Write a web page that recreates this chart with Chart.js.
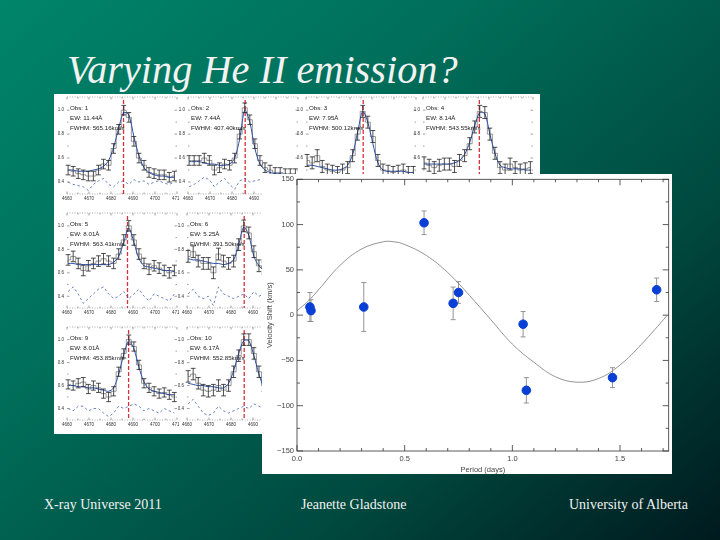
<!DOCTYPE html>
<html>
<head>
<meta charset="utf-8">
<title>Varying He II emission?</title>
<script src="https://cdn.jsdelivr.net/npm/chart.js@4/dist/chart.umd.min.js"></script>
<style>
html, body { margin: 0; padding: 0; }
body {
    width: 720px; height: 540px; position: relative; overflow: hidden;
    background: linear-gradient(140deg, #00856a 0%, #006e5a 35%, #00493f 70%, #001a1e 100%);
    font-family: "Liberation Serif", serif; color: #f2f2f2;
}
canvas { position: absolute; filter: blur(0.4px); }
.sheet { position: absolute; left: 54px; top: 94px; width: 486px; height: 340px; background: #fff; }
.mainbox { position: absolute; left: 262px; top: 174px; width: 410px; height: 300px; background: #fff; }
.title { position: absolute; left: 67px; top: 46px; font-size: 40.3px; font-style: italic; white-space: nowrap; }
.foot { position: absolute; top: 497px; font-size: 14px; white-space: nowrap; }
</style>
</head>
<body>
<div class="title">Varying He II emission?</div>
<div class="sheet"></div>
<div id="panels"></div>
<div class="mainbox"></div>
<canvas id="main-chart" width="412" height="300" style="left:262px;top:174px"></canvas>
<div class="foot" style="left:44px">X-ray Universe 2011</div>
<div class="foot" style="left:301px">Jeanette Gladstone</div>
<div class="foot" style="left:569px">University of Alberta</div>

<script>
// main plot
const periods = [0.06, 0.065, 0.31, 0.59, 0.725, 0.75, 1.05, 1.065, 1.465, 1.67];
const shifts = [9, 5, 9, 102, 13, 25, -10, -83, -69, 28];
const shiftErrs = [16, 12, 27, 13, 18, 12, 14, 14, 11, 13];
const curveX = [0, 0.05, 0.1, 0.2, 0.3, 0.4, 0.45, 0.5, 0.6, 0.7, 0.8, 0.9, 1.0, 1.1, 1.2, 1.3, 1.4, 1.5, 1.6, 1.72];
const curveY = [5, 15, 28, 55, 73, 81, 81, 78, 66, 47, 22, -5, -32, -52, -68, -74, -70, -55, -32, 0];
const mainXTicks = [0, 0.5, 1, 1.5];
const mainYTicks = [-150, -100, -50, 0, 50, 100, 150];
const mainXMinor = [0.1, 0.2, 0.3, 0.4, 0.6, 0.7, 0.8, 0.9, 1.1, 1.2, 1.3, 1.4, 1.6, 1.7];
const mainYMinor = [-125, -75, -25, 25, 75, 125];

// line profile panels
const wavelengths = [4660.5, 4662.8, 4665.1, 4667.4, 4669.7, 4672, 4674.3, 4676.6, 4678.9, 4681.2, 4683.5, 4685.8,
    4688.1, 4690.4, 4692.7, 4695, 4697.3, 4699.6, 4701.9, 4704.2, 4706.5, 4708.8];
const panelXTicks = [4660, 4670, 4680, 4690, 4700, 4710];
const panelYTicks = [0.4, 0.6, 0.8, 1.0];
const panelXMinor = [4665, 4675, 4685, 4695, 4705];
const panelYMinor = [0.5, 0.7, 0.9];

const obsNames = ['Obs: 1', 'Obs: 2', 'Obs: 3', 'Obs: 4', 'Obs: 5', 'Obs: 6', 'Obs: 9', 'Obs: 10'];
const ewLabels = ['EW: 11.44Å', 'EW: 7.44Å', 'EW: 7.95Å', 'EW: 8.14Å', 'EW: 8.01Å', 'EW: 5.25Å', 'EW: 8.01Å', 'EW: 6.17Å'];
const fwhmLabels = ['FWHM: 565.16km/s', 'FWHM: 407.40km/s', 'FWHM: 500.12km/s', 'FWHM: 543.55km/s',
    'FWHM: 563.41km/s', 'FWHM: 391.50km/s', 'FWHM: 453.85km/s', 'FWHM: 552.85km/s'];
const lineCentres = [4685.7, 4686, 4686, 4685.6, 4687.5, 4686, 4688, 4686];
const panelErrs = [0.04, 0.04, 0.05, 0.05, 0.045, 0.05, 0.04, 0.05];

const fluxes = [
    [0.50, 0.49, 0.47, 0.46, 0.45, 0.45, 0.50, 0.55, 0.54, 0.68, 0.84, 1.00, 0.94, 0.74, 0.60, 0.54, 0.48, 0.47, 0.46, 0.46, 0.44, 0.45],
    [0.58, 0.58, 0.58, 0.60, 0.58, 0.50, 0.52, 0.55, 0.54, 0.60, 0.80, 1.02, 0.92, 0.72, 0.58, 0.52, 0.50, 0.48, 0.48, 0.47, 0.47, 0.47],
    [0.58, 0.56, 0.62, 0.53, 0.50, 0.49, 0.48, 0.50, 0.52, 0.62, 0.80, 0.99, 0.90, 0.78, 0.58, 0.50, 0.49, 0.48, 0.49, 0.50, 0.48, 0.48],
    [0.56, 0.54, 0.52, 0.54, 0.55, 0.55, 0.53, 0.58, 0.62, 0.72, 0.86, 0.99, 0.98, 0.80, 0.64, 0.52, 0.50, 0.55, 0.52, 0.50, 0.51, 0.52],
    [0.71, 0.74, 0.68, 0.62, 0.66, 0.68, 0.70, 0.72, 0.70, 0.68, 0.76, 0.88, 1.00, 0.88, 0.76, 0.68, 0.63, 0.66, 0.64, 0.62, 0.60, 0.62],
    [0.74, 0.78, 0.70, 0.68, 0.68, 0.60, 0.76, 0.70, 0.68, 0.70, 0.84, 1.00, 0.94, 0.78, 0.66, 0.64, 0.60, 0.58, 0.56, 0.56, 0.55, 0.55],
    [0.61, 0.60, 0.62, 0.63, 0.57, 0.60, 0.58, 0.53, 0.50, 0.55, 0.72, 0.88, 1.00, 0.94, 0.78, 0.62, 0.58, 0.55, 0.53, 0.54, 0.52, 0.50],
    [0.68, 0.70, 0.62, 0.56, 0.55, 0.56, 0.60, 0.56, 0.60, 0.72, 0.86, 1.00, 1.00, 0.88, 0.72, 0.60, 0.54, 0.52, 0.50, 0.50, 0.50, 0.50]
];
const fits = [
    [0.50, 0.50, 0.49, 0.49, 0.49, 0.50, 0.51, 0.53, 0.58, 0.69, 0.85, 0.98, 0.96, 0.78, 0.62, 0.52, 0.48, 0.46, 0.45, 0.45, 0.44, 0.44],
    [0.57, 0.57, 0.57, 0.56, 0.55, 0.55, 0.54, 0.54, 0.55, 0.60, 0.76, 1.00, 0.90, 0.68, 0.55, 0.50, 0.48, 0.47, 0.47, 0.46, 0.46, 0.46],
    [0.54, 0.54, 0.53, 0.52, 0.51, 0.50, 0.50, 0.51, 0.54, 0.63, 0.82, 0.99, 0.90, 0.72, 0.56, 0.50, 0.49, 0.49, 0.49, 0.49, 0.48, 0.48],
    [0.55, 0.55, 0.55, 0.55, 0.55, 0.55, 0.56, 0.58, 0.63, 0.73, 0.87, 0.98, 0.97, 0.80, 0.64, 0.54, 0.52, 0.51, 0.51, 0.51, 0.50, 0.50],
    [0.68, 0.68, 0.67, 0.67, 0.67, 0.67, 0.67, 0.67, 0.67, 0.69, 0.74, 0.86, 0.98, 0.86, 0.72, 0.66, 0.65, 0.64, 0.63, 0.62, 0.62, 0.61],
    [0.72, 0.71, 0.71, 0.70, 0.69, 0.68, 0.68, 0.67, 0.68, 0.71, 0.84, 0.99, 0.92, 0.74, 0.66, 0.62, 0.60, 0.58, 0.57, 0.56, 0.56, 0.55],
    [0.60, 0.60, 0.59, 0.59, 0.58, 0.58, 0.57, 0.56, 0.55, 0.58, 0.70, 0.87, 0.99, 0.92, 0.76, 0.63, 0.57, 0.55, 0.54, 0.53, 0.52, 0.52],
    [0.62, 0.61, 0.60, 0.60, 0.59, 0.59, 0.58, 0.58, 0.62, 0.73, 0.88, 0.99, 0.99, 0.86, 0.70, 0.58, 0.53, 0.51, 0.50, 0.50, 0.50, 0.50]
];
const residuals = [
    [0.40, 0.38, 0.37, 0.36, 0.33, 0.38, 0.41, 0.43, 0.38, 0.36, 0.40, 0.41, 0.38, 0.42, 0.40, 0.41, 0.38, 0.40, 0.41, 0.39, 0.38, 0.40],
    [0.36, 0.38, 0.41, 0.44, 0.42, 0.36, 0.40, 0.43, 0.38, 0.34, 0.41, 0.43, 0.40, 0.41, 0.42, 0.39, 0.40, 0.41, 0.40, 0.41, 0.40, 0.40],
    [0.40, 0.38, 0.42, 0.38, 0.36, 0.35, 0.33, 0.36, 0.38, 0.40, 0.36, 0.40, 0.42, 0.38, 0.40, 0.36, 0.38, 0.35, 0.38, 0.36, 0.38, 0.40],
    [0.38, 0.37, 0.36, 0.38, 0.42, 0.40, 0.38, 0.37, 0.40, 0.38, 0.36, 0.40, 0.42, 0.38, 0.40, 0.36, 0.35, 0.42, 0.38, 0.36, 0.40, 0.38],
    [0.44, 0.48, 0.42, 0.34, 0.38, 0.42, 0.46, 0.48, 0.42, 0.38, 0.40, 0.44, 0.38, 0.42, 0.46, 0.40, 0.36, 0.42, 0.40, 0.38, 0.36, 0.42],
    [0.42, 0.46, 0.40, 0.38, 0.40, 0.32, 0.48, 0.42, 0.40, 0.38, 0.40, 0.42, 0.38, 0.44, 0.40, 0.42, 0.38, 0.36, 0.40, 0.44, 0.38, 0.40],
    [0.40, 0.38, 0.42, 0.42, 0.38, 0.40, 0.40, 0.36, 0.33, 0.36, 0.42, 0.40, 0.42, 0.44, 0.42, 0.38, 0.40, 0.38, 0.36, 0.40, 0.38, 0.36],
    [0.44, 0.48, 0.42, 0.36, 0.34, 0.36, 0.42, 0.38, 0.36, 0.38, 0.40, 0.42, 0.40, 0.44, 0.42, 0.40, 0.38, 0.40, 0.38, 0.40, 0.40, 0.38]
];

// where each panel's axes sit on the slide: left, top, bottom
const panelBoxes = [
    [67, 97, 194], [188, 97, 194], [306, 97, 194], [423, 97, 194],
    [67, 213, 308], [187, 213, 308], [67, 327, 420], [187, 327, 420]
];
const panelWidth = 109;

function inwardTicks(ctx, area, scale, values, len, horizontal) {
    ctx.beginPath();
    values.forEach(v => {
        const p = scale.getPixelForValue(v);
        if (horizontal) {
            ctx.moveTo(p, area.bottom); ctx.lineTo(p, area.bottom - len);
            ctx.moveTo(p, area.top); ctx.lineTo(p, area.top + len);
        } else {
            ctx.moveTo(area.left, p); ctx.lineTo(area.left + len, p);
            ctx.moveTo(area.right, p); ctx.lineTo(area.right - len, p);
        }
    });
    ctx.stroke();
}

function drawErrors(chart, xs, ys, errs, cap, colour, width) {
    const { x, y } = chart.scales;
    const ctx = chart.ctx;
    ctx.save();
    ctx.strokeStyle = colour;
    ctx.lineWidth = width;
    ctx.beginPath();
    xs.forEach((v, i) => {
        const px = x.getPixelForValue(v);
        const top = y.getPixelForValue(ys[i] + errs[i]);
        const bottom = y.getPixelForValue(ys[i] - errs[i]);
        ctx.moveTo(px, top); ctx.lineTo(px, bottom);
        ctx.moveTo(px - cap, top); ctx.lineTo(px + cap, top);
        ctx.moveTo(px - cap, bottom); ctx.lineTo(px + cap, bottom);
    });
    ctx.stroke();
    ctx.restore();
}

// stop the tick labels from pushing the plot area inwards
function noOverhang(s) {
    s.paddingLeft = 0; s.paddingRight = 0; s.paddingTop = 0; s.paddingBottom = 0;
}

const mainFrame = {
    id: 'mainFrame',
    beforeDatasetsDraw(chart) {
        drawErrors(chart, periods, shifts, shiftErrs, 2.5, '#888', 0.9);
    },
    afterDatasetsDraw(chart) {
        const { ctx, chartArea: a, scales } = chart;
        ctx.save();
        ctx.strokeStyle = '#333';
        ctx.lineWidth = 0.8;
        ctx.strokeRect(a.left, a.top, a.right - a.left, a.bottom - a.top);
        inwardTicks(ctx, a, scales.x, mainXTicks, 6, true);
        inwardTicks(ctx, a, scales.y, mainYTicks, 6, false);
        inwardTicks(ctx, a, scales.x, mainXMinor, 3, true);
        inwardTicks(ctx, a, scales.y, mainYMinor, 3, false);
        ctx.restore();
    }
};

new Chart(document.getElementById('main-chart'), {
    type: 'scatter',
    data: {
        datasets: [
            {
                data: curveX.map((x, i) => ({ x, y: curveY[i] })),
                showLine: true, borderColor: '#888', borderWidth: 0.9, pointRadius: 0, tension: 0.4
            },
            {
                data: periods.map((x, i) => ({ x, y: shifts[i] })),
                backgroundColor: '#0a3fd6', borderColor: '#0a3fd6', pointRadius: 4.3
            }
        ]
    },
    options: {
        responsive: false,
        animation: false,
        layout: { padding: { top: 4, right: 0, left: 0, bottom: 0 } },
        plugins: { legend: { display: false }, tooltip: { enabled: false } },
        scales: {
            x: {
                min: 0, max: 1.726,
                grid: { display: false, drawTicks: false }, border: { display: false },
                afterFit: s => { s.height = 23; noOverhang(s); },
                afterBuildTicks: s => { s.ticks = mainXTicks.map(value => ({ value })); },
                ticks: { color: '#444', font: { family: 'Liberation Sans', size: 7.5 }, padding: 3, maxRotation: 0,
                    callback: v => v.toFixed(1) },
                title: { display: true, text: 'Period (days)', color: '#444', padding: 0,
                    font: { family: 'Liberation Sans', size: 7.5 } }
            },
            y: {
                min: -150, max: 150,
                grid: { display: false, drawTicks: false }, border: { display: false },
                afterFit: s => { s.width = 35; noOverhang(s); },
                afterBuildTicks: s => { s.ticks = mainYTicks.map(value => ({ value })); },
                ticks: { color: '#444', font: { family: 'Liberation Sans', size: 7.5 }, padding: 3,
                    callback: v => String(v).replace('-', '\u2212') },
                title: { display: true, text: 'Velocity Shift (km/s)', color: '#444', padding: { top: 3, bottom: 0 },
                    font: { family: 'Liberation Sans', size: 7.5 } }
            }
        }
    },
    plugins: [mainFrame]
});

const panelFrame = {
    id: 'panelFrame',
    beforeDatasetsDraw(chart) {
        const i = chart.options.plugins.panelFrame.index;
        const { ctx, chartArea: a, scales } = chart;
        const px = scales.x.getPixelForValue(lineCentres[i]);
        ctx.save();
        ctx.strokeStyle = '#d8303c';
        ctx.lineWidth = 1.3;
        ctx.setLineDash([4, 2]);
        ctx.beginPath();
        ctx.moveTo(px, a.top + 3);
        ctx.lineTo(px, a.bottom);
        ctx.stroke();
        ctx.restore();
    },
    afterDatasetsDraw(chart) {
        const i = chart.options.plugins.panelFrame.index;
        const { ctx, chartArea: a, scales } = chart;
        drawErrors(chart, wavelengths, fluxes[i], fluxes[i].map(() => panelErrs[i]), 2.4, '#222', 0.8);
        ctx.save();
        ctx.strokeStyle = '#777';
        ctx.lineWidth = 0.6;
        ctx.setLineDash([1, 1.5]);
        ctx.beginPath();
        ctx.moveTo(a.left, a.top); ctx.lineTo(a.right, a.top);
        ctx.moveTo(a.left, a.bottom); ctx.lineTo(a.right, a.bottom);
        ctx.stroke();
        ctx.setLineDash([]);
        ctx.lineWidth = 0.7;
        inwardTicks(ctx, a, scales.x, panelXTicks, 2.5, true);
        inwardTicks(ctx, a, scales.y, panelYTicks, 2.5, false);
        inwardTicks(ctx, a, scales.x, panelXMinor, 1.5, true);
        inwardTicks(ctx, a, scales.y, panelYMinor, 1.5, false);
        ctx.fillStyle = '#222';
        ctx.font = '6.2px "Liberation Sans"';
        ctx.fillText(obsNames[i], a.left + 3, a.top + 13);
        ctx.fillText(ewLabels[i], a.left + 3, a.top + 23);
        ctx.fillText(fwhmLabels[i], a.left + 3, a.top + 33);
        ctx.restore();
    }
};

const holder = document.getElementById('panels');
panelBoxes.forEach((box, i) => {
    const [left, top, bottom] = box;
    const canvas = document.createElement('canvas');
    canvas.width = panelWidth + 18 + 3;
    canvas.height = bottom - top + 3 + 11;
    canvas.style.left = (left - 18) + 'px';
    canvas.style.top = (top - 3) + 'px';
    holder.appendChild(canvas);

    new Chart(canvas, {
        type: 'line',
        data: {
            labels: wavelengths,
            datasets: [
                { data: wavelengths.map((x, k) => ({ x, y: residuals[i][k] })), borderColor: '#2c4fa8', borderWidth: 0.7,
                    borderDash: [2.5, 2.5], pointRadius: 0 },
                { data: wavelengths.map((x, k) => ({ x, y: fits[i][k] })), borderColor: '#2c4fa8', borderWidth: 1,
                    pointRadius: 0, tension: 0.3 },
                { data: wavelengths.map((x, k) => ({ x, y: fluxes[i][k] })), borderColor: '#555', borderWidth: 0.6,
                    pointRadius: 0, stepped: 'middle' }
            ]
        },
        options: {
            responsive: false,
            animation: false,
            layout: { padding: { top: 3, right: 2, left: 0, bottom: 0 } },
            plugins: { legend: { display: false }, tooltip: { enabled: false }, panelFrame: { index: i } },
            scales: {
                x: {
                    type: 'linear', min: 4660, max: 4710,
                    grid: { display: false, drawTicks: false }, border: { display: false },
                    afterFit: s => { s.height = 11; noOverhang(s); },
                    afterBuildTicks: s => { s.ticks = panelXTicks.map(value => ({ value })); },
                    ticks: { color: '#333', font: { family: 'Liberation Sans', size: 4.5 }, padding: 2, maxRotation: 0,
                        callback: v => String(v) }
                },
                y: {
                    min: 0.3, max: 1.11,
                    grid: { display: false, drawTicks: false }, border: { display: false },
                    afterFit: s => { s.width = 18; noOverhang(s); },
                    afterBuildTicks: s => { s.ticks = panelYTicks.map(value => ({ value })); },
                    ticks: { color: '#333', font: { family: 'Liberation Sans', size: 4.5 }, padding: 3,
                        callback: v => v.toFixed(1) }
                }
            }
        },
        plugins: [panelFrame]
    });
});
</script>
</body>
</html>
